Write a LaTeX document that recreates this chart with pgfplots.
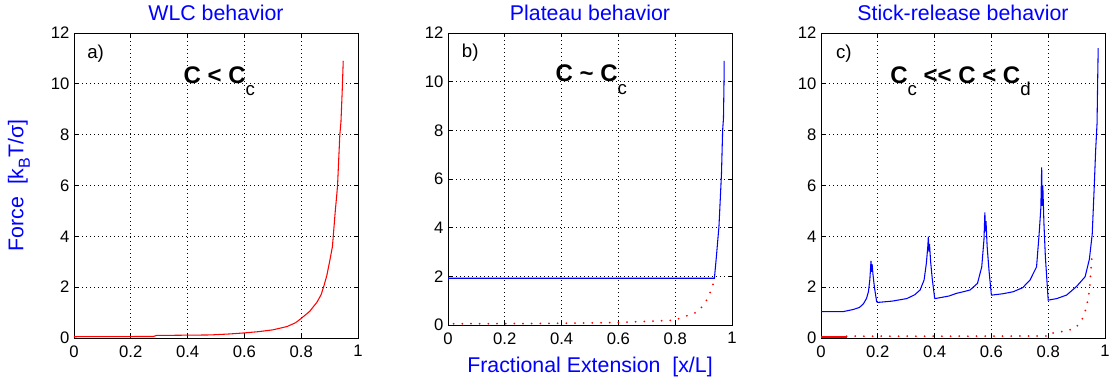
\documentclass[border=0pt]{standalone}
\usepackage{pgfplots}
\pgfplotsset{compat=1.18}
\usepackage{fontspec}
\setmainfont{Liberation Sans}
\definecolor{mblue}{rgb}{0,0,1}
\definecolor{mred}{rgb}{1,0,0}
\newcommand{\sub}[1]{\raisebox{-9.5pt}{\fontsize{14}{14}\selectfont\mdseries #1}}
\tikzset{
  ttl/.style={anchor=base, inner sep=0, font=\fontsize{16}{16}\selectfont, text=mblue},
  ann/.style={anchor=base west, inner sep=0, font=\fontsize{18}{18}\selectfont\bfseries},
  lab/.style={anchor=base west, inner sep=0, font=\fontsize{14}{14}\selectfont},
  bl/.style={mblue, line width=0.8pt},
  rd/.style={mred, line width=0.8pt},
  rdot/.style={mred, line width=1.5pt, line cap=round, dash pattern=on 0pt off 6.5pt},
}
\pgfplotsset{
  myax/.style={
    scale only axis, width=213pt, height=228.75pt,
    xmin=0, xmax=1, ymin=0, ymax=12,
    xtick={0,0.2,0.4,0.6,0.8,1}, ytick={0,2,4,6,8,10,12},
    grid=major,
    grid style={black, line width=0.6pt, dash pattern=on 0.75pt off 2.25pt},
    tick align=inside, major tick length=3pt,
    tick style={black, line width=0.6pt},
    axis line style={black, line width=0.7pt},
    ticklabel style={font=\fontsize{12.5}{12.5}\selectfont},
    /pgf/number format/assume math mode=true,
    xticklabel style={yshift=-2pt},
    clip=false,
  },
}
\begin{document}
\begin{tikzpicture}
\path[use as bounding box] (0,0) rectangle (835.5pt,288.75pt);
% ---------- a ----------
\begin{axis}[myax, at={(55.5pt,35.25pt)}, anchor=south west,
  ylabel={Force\ \ [k\raisebox{-5pt}{\fontsize{12}{12}\selectfont B}T/σ]},
  ylabel style={at={(axis description cs:-0.194,0.5)}, anchor=center,
    font=\fontsize{16}{16}\selectfont, text=mblue}]
\addplot[rd] coordinates {
(0,0.05) (0.28,0.06) (0.29,0.1) (0.48,0.12) (0.55,0.16) (0.6,0.2) (0.65,0.25)
(0.7,0.32) (0.75,0.45) (0.78,0.6) (0.8,0.77) (0.83,1.05) (0.855,1.4) (0.87,1.7)
(0.88,2.05) (0.89,2.45) (0.9,3.0) (0.91,3.6) (0.915,4.3) (0.92,5.0) (0.925,5.6)
(0.928,6.0) (0.932,7.0) (0.936,8.0) (0.94,8.5) (0.944,9.6) (0.948,10.9)};
\node[ttl] at (axis description cs:0.5,1.0426) {WLC behavior};
\node[lab] at (axis cs:0.046,11.0) {a)};
\node[ann] at (axis cs:0.385,10.03) {C < C\sub{c}};
\end{axis}
% ---------- b ----------
\begin{axis}[myax, at={(336pt,45pt)}, anchor=south west, height=219pt,
  xlabel={Fractional Extension\ \ [x/L]},
  xlabel style={at={(axis description cs:0.5,0)}, anchor=base, yshift=-36pt,
    font=\fontsize{16}{16}\selectfont, text=mblue}]
\addplot[rdot] coordinates {
(0.02,0.05) (0.3,0.06) (0.6,0.1) (0.8,0.2) (0.83,0.34) (0.86,0.45) (0.88,0.55)
(0.905,0.89) (0.922,1.3) (0.934,1.71) (0.94,1.92)};
\addplot[bl] coordinates {
(0,1.92) (0.938,1.92) (0.945,2.8) (0.95,3.5) (0.954,4.04) (0.958,5.0) (0.963,6.23)
(0.967,8.0) (0.97,8.5) (0.972,10.1) (0.972,10.85)};
\node[ttl] at (axis description cs:0.5,1.0445) {Plateau behavior};
\node[lab] at (axis cs:0.048,11.0) {b)};
\node[ann] at (axis cs:0.378,10.0) {C \textasciitilde\ C\sub{c}};
\end{axis}
% ---------- c ----------
\begin{axis}[myax, at={(615.75pt,35.25pt)}, anchor=south west]
\addplot[rd, line width=1.2pt] coordinates {(0,0.05) (0.09,0.05)};
\addplot[rdot] coordinates {
(0.09,0.07) (0.5,0.07) (0.8,0.08) (0.806,0.18) (0.85,0.25) (0.894,0.37) (0.918,0.69)
(0.935,1.21) (0.945,1.86) (0.951,2.77) (0.955,3.3) (0.956,3.35)};
\addplot[bl] coordinates {
(0,1.04) (0.079,1.04) (0.113,1.12) (0.135,1.2) (0.149,1.34) (0.16,1.55) (0.167,1.82)
(0.172,2.3) (0.176,3.03) (0.178,2.6) (0.180,2.9) (0.183,2.5) (0.188,2.0) (0.196,1.43)
(0.2,1.4) (0.25,1.45) (0.302,1.55) (0.33,1.7) (0.349,1.89) (0.363,2.28) (0.371,2.94)
(0.376,3.6) (0.378,3.99) (0.380,3.4) (0.382,3.7) (0.386,3.0) (0.392,2.3) (0.4,1.58)
(0.401,1.55) (0.45,1.65) (0.478,1.76) (0.505,1.83) (0.525,1.89) (0.551,2.15) (0.566,2.8)
(0.574,3.9) (0.577,4.94) (0.579,4.2) (0.581,4.6) (0.585,3.6) (0.592,2.6) (0.6,1.69)
(0.603,1.69) (0.64,1.74) (0.677,1.82) (0.71,1.98) (0.736,2.28) (0.759,2.8) (0.768,4.09)
(0.774,5.1) (0.777,6.71) (0.779,5.2) (0.781,6.0) (0.785,4.5) (0.79,3.2) (0.8,1.49)
(0.83,1.55) (0.865,1.69) (0.9,2.03) (0.93,2.41) (0.945,3.1) (0.955,4.09) (0.962,5.93)
(0.967,7.37) (0.972,8.44) (0.974,10.0) (0.976,11.4)};
\node[ttl] at (axis description cs:0.5,1.0426) {Stick-release behavior};
\node[lab] at (axis cs:0.052,11.0) {c)};
\node[ann] at (axis cs:0.243,10.02) {C\sub{c} {<}{<} C < C\sub{d}};
\end{axis}
\end{tikzpicture}
\end{document}
